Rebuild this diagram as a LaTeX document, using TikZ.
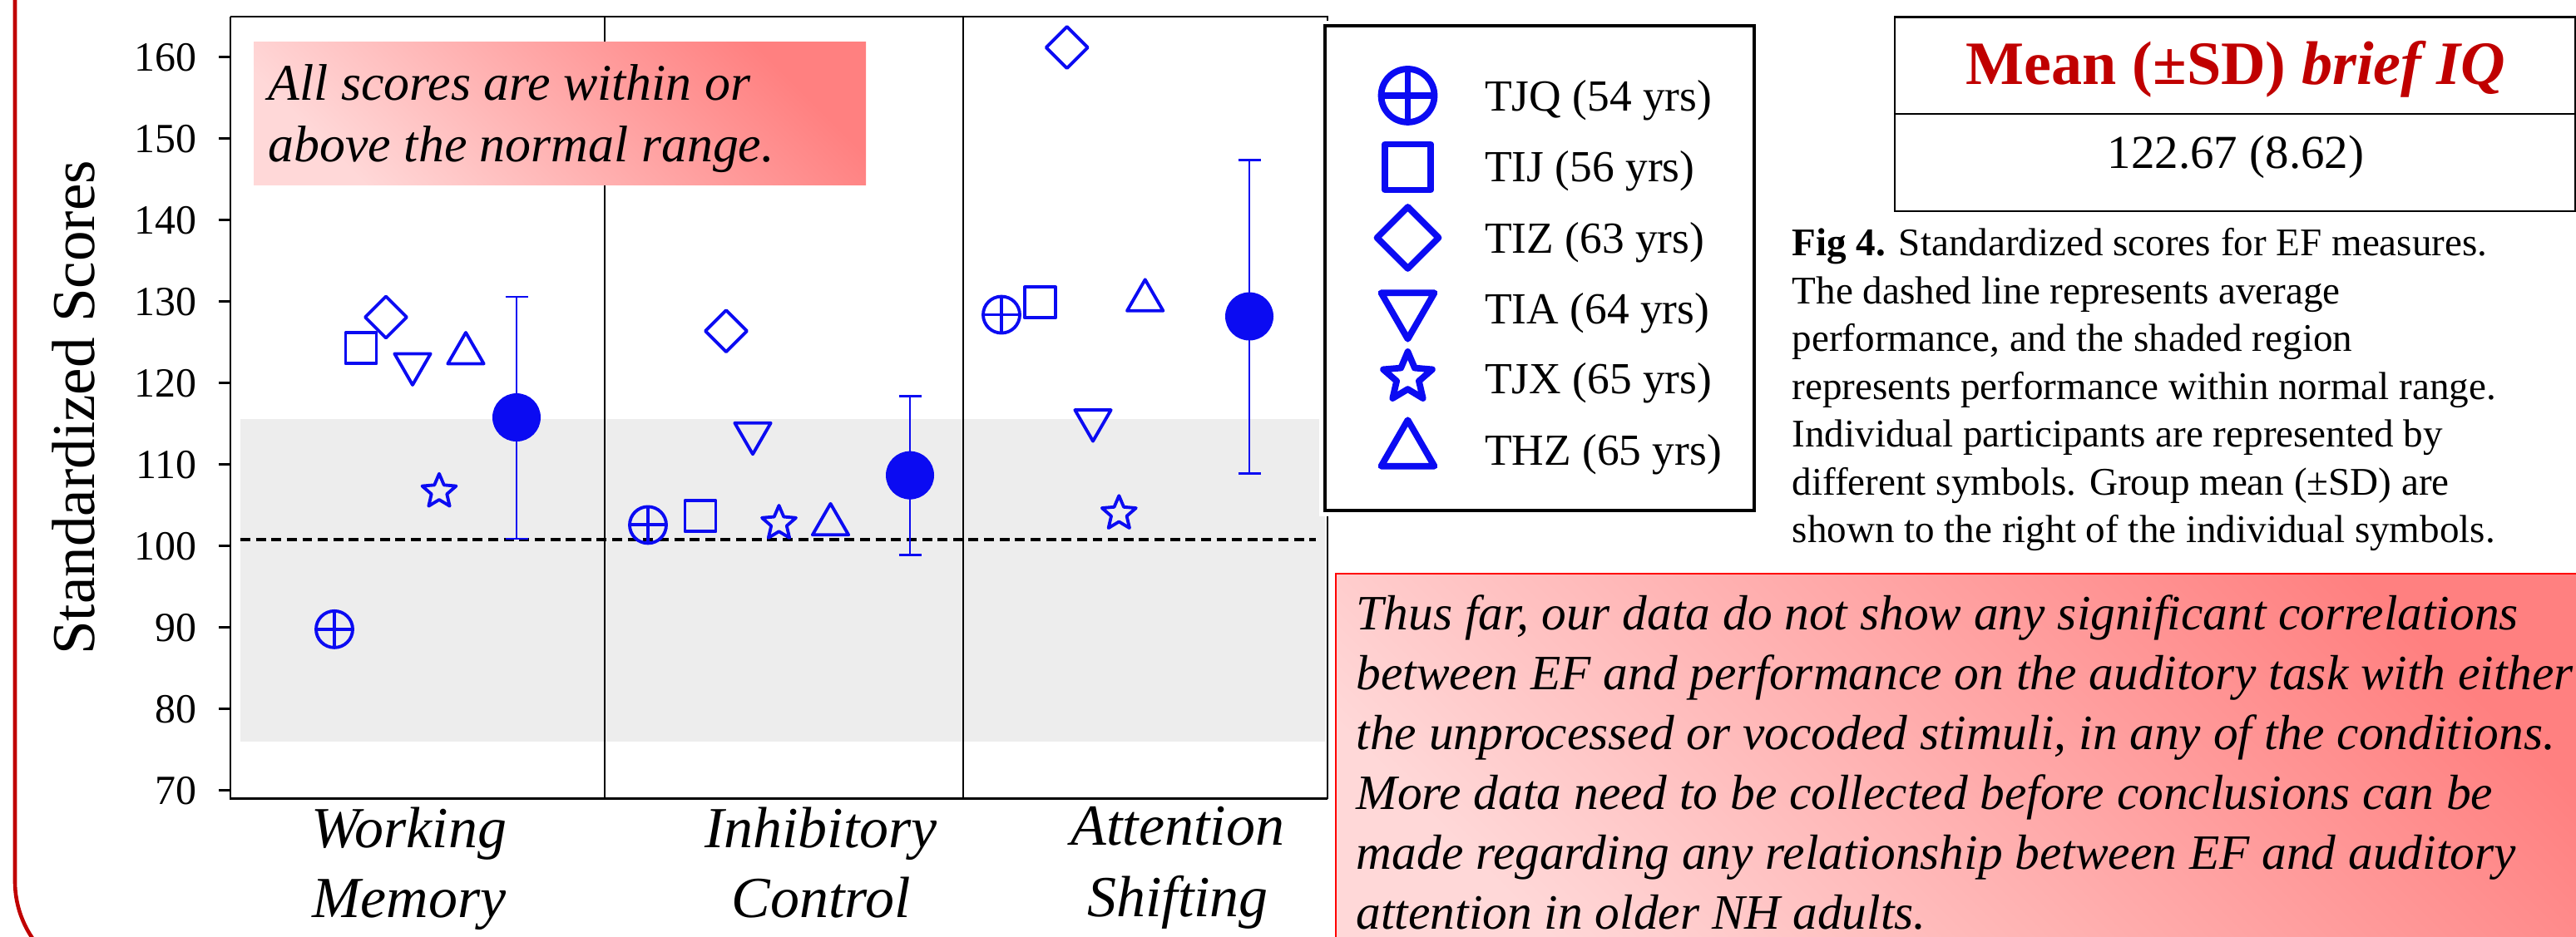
\documentclass[tikz,border=0pt]{standalone}
\usepackage{fontspec}
\setmainfont{Liberation Serif}
\usepackage{tikz}
\usetikzlibrary{shapes.geometric}
\definecolor{panelred}{HTML}{C00000}
\definecolor{boxred}{HTML}{FF0000}
\definecolor{mblue}{HTML}{0B0BF2}
\definecolor{normgray}{HTML}{EDEDED}
\definecolor{pinkdark}{HTML}{FF8080}
\definecolor{pinklight}{HTML}{FFD8D8}
\tikzset{
  panel/.style={draw=panelred, line width=1.3pt, rounded corners=1.22cm},
  frame/.style={draw=black, line width=0.7pt},
  axis/.style={draw=black, line width=0.85pt},
  sep/.style={draw=black, line width=0.55pt},
  avgline/.style={draw=black, line width=1.1pt, dash pattern=on 3.4pt off 1.9pt},
  errbar/.style={draw=mblue, line width=0.75pt},
  pinkbox/.style={top color=pinklight, bottom color=pinkdark, shading angle=135},
  legbox/.style={draw=black, line width=1pt},
  tablebox/.style={draw=black, line width=0.75pt},
  mk/.style={draw=mblue, line width=1.1pt, line join=round, inner sep=0pt, outer sep=0pt},
  big/.style={line width=2.2pt},
  tjq/.style={mk, circle, minimum size=#1,
    path picture={\draw[mblue]
      (path picture bounding box.north) -- (path picture bounding box.south)
      (path picture bounding box.west) -- (path picture bounding box.east);}},
  tjq/.default=0.44cm,
  tij/.style={mk, rectangle, minimum size=#1}, tij/.default=0.37cm,
  tiz/.style={mk, diamond, minimum size=#1}, tiz/.default=0.50cm,
  tia/.style={mk, regular polygon, regular polygon sides=3, shape border rotate=180,
    minimum size=#1, yshift=#1/8}, tia/.default=0.50cm,
  tjx/.style={mk, star, star points=5, star point ratio=2.2, minimum size=#1}, tjx/.default=0.43cm,
  thz/.style={mk, regular polygon, regular polygon sides=3, minimum size=#1, yshift=-#1/8},
  thz/.default=0.50cm,
  meandot/.style={circle, fill=mblue, inner sep=0pt, minimum size=0.58cm},
  ticklbl/.style={font=\fontsize{14.2}{17}\selectfont, anchor=east, inner sep=0pt},
  ylbl/.style={font=\fontsize{20.8}{25}\selectfont, rotate=90, anchor=base, inner sep=0pt},
  catlbl/.style={font=\fontsize{19.9}{24}\selectfont\itshape, anchor=base, inner sep=0pt},
  notelbl/.style={font=\fontsize{17.6}{21}\selectfont\itshape, anchor=base west, inner sep=0pt},
  leglbl/.style={font=\fontsize{15.2}{18}\selectfont, anchor=base west, inner sep=0pt},
  iqhead/.style={font=\fontsize{21.1}{25}\selectfont\bfseries, text=panelred, anchor=base, inner sep=0pt},
  iqval/.style={font=\fontsize{16.2}{19}\selectfont, anchor=base, inner sep=0pt},
  caplbl/.style={font=\fontsize{13.4}{16}\selectfont, anchor=base west, inner sep=0pt},
  sumlbl/.style={font=\fontsize{16.9}{20}\selectfont\itshape, anchor=base west, inner sep=0pt}
}
\begin{document}
\begin{tikzpicture}
  \useasboundingbox (0,0) rectangle (30.97,11.27);
  \clip (0,0) rectangle (30.97,11.27);

  \draw[panel] (0.18,11.6) -- (0.18,-0.55) -- (12,-0.55);

  \begin{scope}[yshift=-5.10cm, y=0.098cm]
    \coordinate (bl) at (2.77,69);
    \coordinate (tl) at (2.77,165);
    \coordinate (tr) at (15.96,165);
    \coordinate (br) at (15.96,69);
    \coordinate (avgL) at (2.89,100.85);
    \coordinate (avgR) at (15.82,100.85);

    \fill[normgray] (2.89,76.0) rectangle (15.93,115.6);
    \draw[avgline] (avgL) -- (avgR);
    \draw[sep] (7.27,69) -- (7.27,165);
    \draw[sep] (11.58,69) -- (11.58,165);
    \draw[frame] (tl) -- (tr) -- (br);
    \draw[axis] (tl) -- (bl) -- (br);

    \foreach \v in {70,80,...,160} {
      \draw[axis] (2.63,\v) -- (2.77,\v);
      \node[ticklbl] (tick\v) at (2.37,\v) {\v};
    }

    \node[tjq] (wmtjq) at (4.02,89.8) {};
    \node[tij] (wmtij) at (4.34,124.3) {};
    \node[tiz] (wmtiz) at (4.64,128.1) {};
    \node[tia] (wmtia) at (4.96,121.7) {};
    \node[tjx] (wmtjx) at (5.28,106.7) {};
    \node[thz] (wmthz) at (5.60,124.3) {};

    \node[tjq] (ictjq) at (7.79,102.6) {};
    \node[tij] (ictij) at (8.42,103.7) {};
    \node[tiz] (ictiz) at (8.73,126.4) {};
    \node[tia] (ictia) at (9.05,113.2) {};
    \node[tjx] (ictjx) at (9.365,102.8) {};
    \node[thz] (icthz) at (9.985,103.3) {};

    \node[tjq] (astjq) at (12.04,128.4) {};
    \node[tij] (astij) at (12.505,129.9) {};
    \node[tiz] (astiz) at (12.827,161.2) {};
    \node[tia] (astia) at (13.14,114.8) {};
    \node[tjx] (astjx) at (13.453,104.0) {};
    \node[thz] (asthz) at (13.767,130.8) {};

    \coordinate (wmtop) at (6.21,130.6);
    \coordinate (wmbot) at (6.21,100.9);
    \coordinate (ictop) at (10.94,118.4);
    \coordinate (icbot) at (10.94,98.9);
    \coordinate (astop) at (15.02,147.4);
    \coordinate (asbot) at (15.02,108.9);
    \foreach \n in {wm,ic,as} {
      \draw[errbar] (\n top) -- (\n bot);
      \draw[errbar] ([xshift=-0.135cm]\n top) -- ([xshift=0.135cm]\n top);
      \draw[errbar] ([xshift=-0.135cm]\n bot) -- ([xshift=0.135cm]\n bot);
    }
    \node[meandot] (wmmean) at (6.21,115.8) {};
    \node[meandot] (icmean) at (10.94,108.7) {};
    \node[meandot] (asmean) at (15.02,128.2) {};
  \end{scope}

  \node[ylbl] (ytitle) at (1.13,6.365) {Standardized Scores};
  \node[catlbl] (wmA) at (4.92,1.07) {Working};
  \node[catlbl] (wmB) at (4.92,0.23) {Memory};
  \node[catlbl] (icA) at (9.87,1.07) {Inhibitory};
  \node[catlbl] (icB) at (9.87,0.23) {Control};
  \node[catlbl] (asA) at (14.16,1.10) {Attention};
  \node[catlbl] (asB) at (14.16,0.24) {Shifting};

  \shade[pinkbox] (3.05,10.76) rectangle (10.41,9.04);
  \node[notelbl] (noteA) at (3.22,10.065) {All scores are within or};
  \node[notelbl] (noteB) at (3.22,9.32) {above the normal range.};

  \fill[white] (15.86,11.02) rectangle (21.16,5.06);
  \draw[legbox] (15.93,10.96) rectangle (21.09,5.13);
  \node[tjq=0.64cm, big] (lgtjq) at (16.925,10.12) {};
  \node[tij=0.55cm, big] (lgtij) at (16.925,9.26) {};
  \node[tiz=0.74cm, big] (lgtiz) at (16.925,8.41) {};
  \node[tia=0.74cm, big] (lgtia) at (16.925,7.47) {};
  \node[tjx=0.62cm, big] (lgtjx) at (16.925,6.73) {};
  \node[thz=0.74cm, big] (lgthz) at (16.925,5.94) {};
  \node[leglbl] (lgtjqtxt) at (17.845,9.935) {TJQ (54 yrs)};
  \node[leglbl] (lgtijtxt) at (17.845,9.08) {TIJ (56 yrs)};
  \node[leglbl] (lgtiztxt) at (17.845,8.22) {TIZ (63 yrs)};
  \node[leglbl] (lgtiatxt) at (17.845,7.37) {TIA (64 yrs)};
  \node[leglbl] (lgtjxtxt) at (17.845,6.53) {TJX (65 yrs)};
  \node[leglbl] (lgthztxt) at (17.845,5.67) {THZ (65 yrs)};

  \draw[tablebox] (22.78,11.065) rectangle (30.96,8.73);
  \draw[tablebox] (22.78,9.90) -- (30.96,9.90);
  \node[iqhead] (iqtitle) at (26.88,10.25) {Mean (±SD) \textit{brief IQ}};
  \node[iqval] (iqvalue) at (26.88,9.24) {122.67 (8.62)};

  \foreach \t [count=\i] in {
      {\textbf{Fig 4.} Standardized scores for EF measures.},
      {The dashed line represents average},
      {performance, and the shaded region},
      {represents performance within normal range.},
      {Individual participants are represented by},
      {different symbols. Group mean (±SD) are},
      {shown to the right of the individual symbols.}} {
    \node[caplbl] (cap\i) at (21.54,{8.19-0.575*(\i-1)}) {\t};
  }

  \shadedraw[pinkbox, draw=boxred, line width=0.5pt] (16.06,4.37) rectangle (31.3,-0.4);
  \foreach \t [count=\i] in {
      {Thus far, our data do not show any significant correlations},
      {between EF and performance on the auditory task with either},
      {the unprocessed or vocoded stimuli, in any of the conditions.},
      {More data need to be collected before conclusions can be},
      {made regarding any relationship between EF and auditory},
      {attention in older NH adults.}} {
    \node[sumlbl] (sum\i) at (16.30,{3.69-0.72*(\i-1)}) {\t};
  }
\end{tikzpicture}
\end{document}
